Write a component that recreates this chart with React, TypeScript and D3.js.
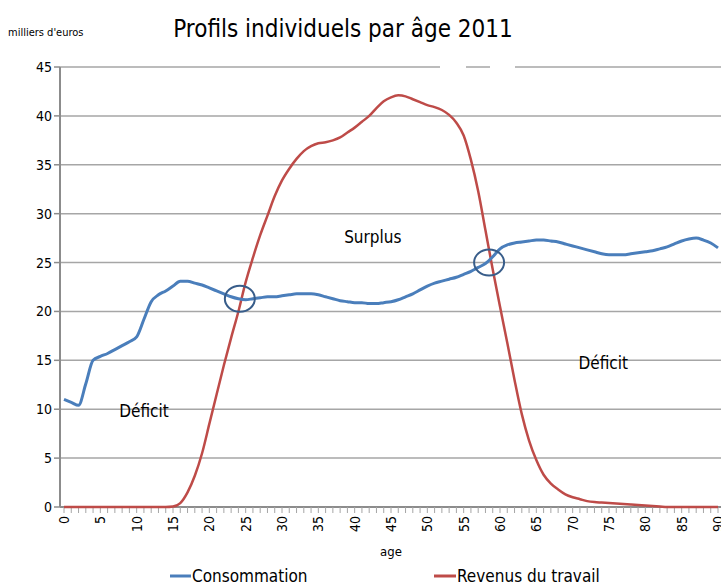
import * as d3 from "d3";

const ages = d3.range(0, 91);

// consommation moyenne par âge (milliers d'euros)
const consommation = [
  11.0, 10.7, 10.4, 12.6, 15.0, 15.4, 15.7, 16.1, 16.5, 16.9,
  17.4, 19.2, 21.0, 21.7, 22.1, 22.6, 23.1, 23.1, 22.9, 22.7,
  22.4, 22.1, 21.8, 21.5, 21.3, 21.2, 21.3, 21.4, 21.5, 21.5,
  21.6, 21.7, 21.8, 21.8, 21.8, 21.7, 21.5, 21.3, 21.1, 21.0,
  20.9, 20.9, 20.8, 20.8, 20.9, 21.0, 21.2, 21.5, 21.8, 22.2,
  22.6, 22.9, 23.1, 23.3, 23.5, 23.8, 24.1, 24.5, 24.9, 25.6,
  26.4, 26.8, 27.0, 27.1, 27.2, 27.3, 27.3, 27.2, 27.1, 26.9,
  26.7, 26.5, 26.3, 26.1, 25.9, 25.8, 25.8, 25.8, 25.9, 26.0,
  26.1, 26.2, 26.4, 26.6, 26.9, 27.2, 27.4, 27.5, 27.3, 27.0,
  26.5,
];

// revenus du travail moyens par âge (milliers d'euros)
const revenus = [
  0, 0, 0, 0, 0, 0, 0, 0, 0, 0,
  0, 0, 0, 0, 0, 0.05, 0.4, 1.5, 3.2, 5.5,
  8.5, 11.5, 14.5, 17.3, 20.0, 23.0, 25.5, 27.8, 29.8, 31.8,
  33.4, 34.6, 35.6, 36.4, 36.9, 37.2, 37.3, 37.5, 37.8, 38.3,
  38.8, 39.4, 40.0, 40.8, 41.5, 41.9, 42.1, 42.0, 41.7, 41.4,
  41.1, 40.9, 40.6, 40.1, 39.3, 38.0, 35.5, 32.3, 28.3, 24.3,
  20.5, 16.8, 13.0, 9.5, 6.8, 4.8, 3.3, 2.4, 1.8, 1.3,
  1.0, 0.8, 0.6, 0.5, 0.45, 0.4, 0.35, 0.3, 0.25, 0.2,
  0.15, 0.1, 0.05, 0, 0, 0, 0, 0, 0, 0,
  0,
];

const yTicks = [0, 5, 10, 15, 20, 25, 30, 35, 40, 45];
const xTickLabels = d3.range(0, 91, 5);

// points de croisement entourés
const crossings = [
  { age: 24.2, value: 21.3 },
  { age: 58.5, value: 25.0 },
];

const zones = [
  { label: "Surplus", age: 42.5, value: 27.0 },
  { label: "Déficit", age: 11, value: 9.2 },
  { label: "Déficit", age: 74.2, value: 14.1 },
];

const W = 721;
const H = 585;
const font = "'Liberation Sans Narrow', 'DejaVu Sans Condensed', sans-serif";

export default function App() {
  const x = d3.scaleLinear().domain([0, 90]).range([64, 718]);
  const y = d3.scaleLinear().domain([0, 45]).range([507, 67]);

  const line = d3
    .line<number>()
    .x((_, i) => x(ages[i]))
    .y((d) => y(d))
    .curve(d3.curveMonotoneX);

  const xLeft = 60;

  return (
    <svg
      width={W}
      height={H}
      style={{ position: "absolute", left: 0, top: 0, background: "#fff" }}
      fontFamily={font}
    >
      <text x={343} y={37} textAnchor="middle" fontSize={24} fill="#000">
        Profils individuels par âge 2011
      </text>
      <text x={8} y={36} fontSize={11} fill="#000">
        milliers d'euros
      </text>

      {/* grille horizontale */}
      {yTicks.map((t) => (
        <g key={t}>
          {t > 0 && (
            <line x1={xLeft} x2={W} y1={y(t)} y2={y(t)} stroke="#a6a6a6" strokeWidth={1.5} />
          )}
          <line x1={54} x2={xLeft} y1={y(t)} y2={y(t)} stroke="#8c8c8c" strokeWidth={1.5} />
          <text x={52} y={y(t) + 5} textAnchor="end" fontSize={14} fill="#000">
            {t}
          </text>
        </g>
      ))}
      <rect x={440} y={y(45) - 3} width={26} height={6} fill="#fff" />
      <rect x={490} y={y(45) - 3} width={25} height={6} fill="#fff" />

      {/* axes */}
      <line x1={xLeft} x2={xLeft} y1={y(45)} y2={y(0)} stroke="#8c8c8c" strokeWidth={2} />
      <line x1={xLeft} x2={W} y1={y(0)} y2={y(0)} stroke="#8c8c8c" strokeWidth={2} />
      {ages.map((a) => (
        <line key={a} x1={x(a)} x2={x(a)} y1={y(0)} y2={y(0) + 6} stroke="#a6a6a6" strokeWidth={1} />
      ))}
      {xTickLabels.map((a) => (
        <text
          key={a}
          transform={`translate(${x(a) + 5},${y(0) + 9}) rotate(-90)`}
          textAnchor="end"
          fontSize={14}
          fill="#000"
        >
          {a}
        </text>
      ))}
      <text x={391} y={556} textAnchor="middle" fontSize={13} fill="#000">
        age
      </text>

      {/* séries */}
      <path d={line(revenus) ?? ""} fill="none" stroke="#be4b48" strokeWidth={2.5} />
      <path d={line(consommation) ?? ""} fill="none" stroke="#4a7ebb" strokeWidth={3} />

      {crossings.map((c, i) => (
        <ellipse
          key={i}
          cx={x(c.age)}
          cy={y(c.value)}
          rx={15}
          ry={13}
          fill="none"
          stroke="#385d8a"
          strokeWidth={2}
        />
      ))}

      {zones.map((z, i) => (
        <text key={i} x={x(z.age)} y={y(z.value)} textAnchor="middle" fontSize={17} fill="#000">
          {z.label}
        </text>
      ))}

      {/* légende */}
      <line x1={170} x2={191} y1={576} y2={576} stroke="#4a7ebb" strokeWidth={3} />
      <text x={192} y={582} fontSize={17} fill="#000">
        Consommation
      </text>
      <line x1={434} x2={456} y1={576} y2={576} stroke="#be4b48" strokeWidth={3} />
      <text x={457} y={582} fontSize={17} fill="#000">
        Revenus du travail
      </text>
    </svg>
  );
}
